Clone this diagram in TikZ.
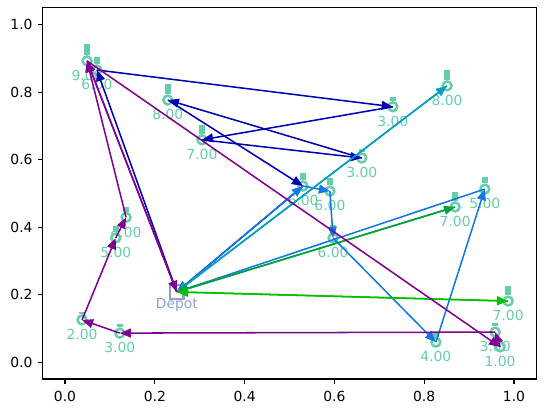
\documentclass[tikz,border=0pt]{standalone}
\usepackage{fontspec}
\setmainfont{DejaVu Sans}
\usepackage{tikz}
\usetikzlibrary{arrows.meta}

\definecolor{aqua}{RGB}{102,205,170}
\definecolor{depc}{RGB}{143,160,210}
\definecolor{dblue}{RGB}{0,0,180}
\definecolor{purp}{RGB}{128,0,144}
\definecolor{teal2}{RGB}{0,160,192}
\definecolor{bblue}{RGB}{16,120,224}
\definecolor{dgreen}{RGB}{0,160,64}
\definecolor{lgreen}{RGB}{0,192,0}

\tikzset{
  cust/.style={circle, draw=aqua, line width=1.8pt, minimum size=6.4pt, inner sep=0pt},
  dem/.style={text=aqua, anchor=base, inner sep=0pt, font=\fontsize{10}{12}\selectfont},
  depot/.style={rectangle, draw=depc, line width=1.6pt, minimum size=9.6pt, inner sep=0pt},
  route/.style={line width=1.1pt, -{Triangle[length=8pt,width=6.4pt]}},
  tick/.style={font=\fontsize{10}{12}\selectfont, inner sep=0pt}
}

\begin{document}
\begin{tikzpicture}[x=323.3pt, y=242.9pt]
  \useasboundingbox (-0.1448,-0.1509) rectangle (1.0735,1.0735);
  % axes
  \draw[line width=0.8pt] (-0.05,-0.05) rectangle (1.05,1.05);
  \foreach \t in {0.0,0.2,0.4,0.6,0.8,1.0} {
    \draw[line width=0.8pt] (\t,-0.05) -- ++(0,-3.5pt);
    \node[tick, anchor=base] at ([yshift=-15.9pt]\t,-0.05) {\t};
    \draw[line width=0.8pt] (-0.05,\t) -- ++(-3.5pt,0);
    \node[tick, anchor=east] at ([xshift=-7pt]-0.05,\t) {\t};
  }

  % customers
  \node[cust] (c1) at (0.049,0.893) {};
  \node[cust] (c2) at (0.071,0.866) {};
  \node[cust] (c3) at (0.229,0.777) {};
  \node[cust] (c4) at (0.305,0.659) {};
  \node[cust] (c5) at (0.730,0.757) {};
  \node[cust] (c6) at (0.851,0.819) {};
  \node[cust] (c7) at (0.661,0.605) {};
  \node[cust] (c8) at (0.530,0.522) {};
  \node[cust] (c9) at (0.590,0.507) {};
  \node[cust] (c10) at (0.597,0.368) {};
  \node[cust] (c11) at (0.869,0.460) {};
  \node[cust] (c12) at (0.935,0.513) {};
  \node[cust] (c13) at (0.987,0.181) {};
  \node[cust] (c14) at (0.826,0.059) {};
  \node[cust] (c15) at (0.958,0.089) {};
  \node[cust] (c16) at (0.969,0.045) {};
  \node[cust] (c17) at (0.122,0.086) {};
  \node[cust] (c18) at (0.038,0.125) {};
  \node[cust] (c19) at (0.113,0.368) {};
  \node[cust] (c20) at (0.136,0.429) {};

  % demand bars
  \fill[aqua] ([xshift=-2.1pt]c1.north) rectangle ++(4.2pt,8.2pt);
  \fill[aqua] ([xshift=-2.1pt]c2.north) rectangle ++(4.2pt,5.5pt);
  \fill[aqua] ([xshift=-2.1pt]c3.north) rectangle ++(4.2pt,7.3pt);
  \fill[aqua] ([xshift=-2.1pt]c4.north) rectangle ++(4.2pt,6.4pt);
  \fill[aqua] ([xshift=-2.1pt]c5.north) rectangle ++(4.2pt,2.7pt);
  \fill[aqua] ([xshift=-2.1pt]c6.north) rectangle ++(4.2pt,7.3pt);
  \fill[aqua] ([xshift=-2.1pt]c7.north) rectangle ++(4.2pt,2.7pt);
  \fill[aqua] ([xshift=-2.1pt]c8.north) rectangle ++(4.2pt,5.5pt);
  \fill[aqua] ([xshift=-2.1pt]c9.north) rectangle ++(4.2pt,5.5pt);
  \fill[aqua] ([xshift=-2.1pt]c10.north) rectangle ++(4.2pt,5.5pt);
  \fill[aqua] ([xshift=-2.1pt]c11.north) rectangle ++(4.2pt,6.4pt);
  \fill[aqua] ([xshift=-2.1pt]c12.north) rectangle ++(4.2pt,4.6pt);
  \fill[aqua] ([xshift=-2.1pt]c13.north) rectangle ++(4.2pt,6.4pt);
  \fill[aqua] ([xshift=-2.1pt]c14.north) rectangle ++(4.2pt,3.6pt);
  \fill[aqua] ([xshift=-2.1pt]c15.north) rectangle ++(4.2pt,2.7pt);
  \fill[aqua] ([xshift=-2.1pt]c16.north) rectangle ++(4.2pt,0.9pt);
  \fill[aqua] ([xshift=-2.1pt]c17.north) rectangle ++(4.2pt,2.7pt);
  \fill[aqua] ([xshift=-2.1pt]c18.north) rectangle ++(4.2pt,1.8pt);
  \fill[aqua] ([xshift=-2.1pt]c19.north) rectangle ++(4.2pt,4.6pt);
  \fill[aqua] ([xshift=-2.1pt]c20.north) rectangle ++(4.2pt,3.6pt);

  % demand labels
  \node[dem] (d1) at ([yshift=-14.2pt]c1.center) {9.00};
  \node[dem] (d2) at ([yshift=-14.2pt]c2.center) {6.00};
  \node[dem] (d3) at ([yshift=-14.2pt]c3.center) {8.00};
  \node[dem] (d4) at ([yshift=-14.2pt]c4.center) {7.00};
  \node[dem] (d5) at ([yshift=-14.2pt]c5.center) {3.00};
  \node[dem] (d6) at ([yshift=-14.2pt]c6.center) {8.00};
  \node[dem] (d7) at ([yshift=-14.2pt]c7.center) {3.00};
  \node[dem] (d8) at ([yshift=-14.2pt]c8.center) {6.00};
  \node[dem] (d9) at ([yshift=-14.2pt]c9.center) {6.00};
  \node[dem] (d10) at ([yshift=-14.2pt]c10.center) {6.00};
  \node[dem] (d11) at ([yshift=-14.2pt]c11.center) {7.00};
  \node[dem] (d12) at ([yshift=-14.2pt]c12.center) {5.00};
  \node[dem] (d13) at ([yshift=-14.2pt]c13.center) {7.00};
  \node[dem] (d14) at ([yshift=-14.2pt]c14.center) {4.00};
  \node[dem] (d15) at ([yshift=-14.2pt]c15.center) {3.00};
  \node[dem] (d16) at ([yshift=-14.2pt]c16.center) {1.00};
  \node[dem] (d17) at ([yshift=-14.2pt]c17.center) {3.00};
  \node[dem] (d18) at ([yshift=-14.2pt]c18.center) {2.00};
  \node[dem] (d19) at ([yshift=-14.2pt]c19.center) {5.00};
  \node[dem] (d20) at ([yshift=-14.2pt]c20.center) {4.00};

  % depot
  \node[depot] (dep) at (0.249,0.208) {};
  \node[dem, text=depc] (deplab) at ([yshift=-12.2pt]dep.center) {Depot};

  % routes
  \draw[route, dblue] (dep.center) -- (c2.center);
  \draw[route, dblue] (c2.center) -- (c5.center);
  \draw[route, dblue] (c5.center) -- (c4.center);
  \draw[route, dblue] (c4.center) -- (c7.center);
  \draw[route, dblue] (c7.center) -- (c3.center);
  \draw[route, dblue] (c3.center) -- (c8.center);
  \draw[route, dblue] (c8.center) -- (dep.center);

  \draw[route, bblue] (dep.center) -- (c8.center);
  \draw[route, bblue] (c8.center) -- (c9.center);
  \draw[route, bblue] (c9.center) -- (c10.center);
  \draw[route, bblue] (c10.center) -- (c14.center);
  \draw[route, bblue] (c14.center) -- (c12.center);
  \draw[route, bblue] (c12.center) -- (dep.center);

  \draw[route, teal2] (dep.center) -- (c6.center);
  \draw[route, teal2] (c6.center) -- (dep.center);

  \draw[route, dgreen] (dep.center) -- (c11.center);
  \draw[route, dgreen] (c11.center) -- (dep.center);

  \draw[route, lgreen] (dep.center) -- (c13.center);
  \draw[route, lgreen] (c13.center) -- (dep.center);

  \draw[route, purp] (dep.center) -- (c1.center);
  \draw[route, purp] (c1.center) -- (c16.center);
  \draw[route, purp] (c16.center) -- (c15.center);
  \draw[route, purp] (c15.center) -- (c17.center);
  \draw[route, purp] (c17.center) -- (c18.center);
  \draw[route, purp] (c18.center) -- (c19.center);
  \draw[route, purp] (c19.center) -- (c20.center);
  \draw[route, purp] (c20.center) -- (c1.center);
  \draw[route, purp] (c1.center) -- (dep.center);
\end{tikzpicture}
\end{document}
